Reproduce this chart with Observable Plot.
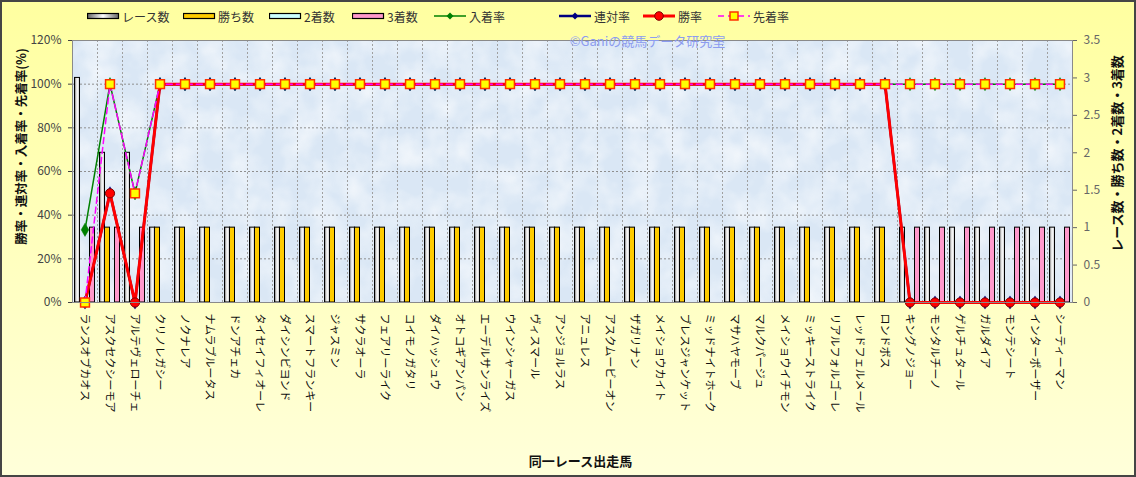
<!DOCTYPE html>
<html>
<head>
<meta charset="utf-8">
<script src="https://cdn.jsdelivr.net/npm/d3@7"></script>
<script src="https://cdn.jsdelivr.net/npm/@observablehq/plot@0.6"></script>
<style>
  html, body { margin: 0; padding: 0; }
  body { width: 1136px; height: 477px; overflow: hidden; font-family: "Noto Sans CJK JP", sans-serif; }
  #wrap { position: relative; width: 1136px; height: 477px; background: linear-gradient(to bottom, #FFFFA0, #FFFFDA); }
  #legend { position: relative; height: 24px; }
  .item { position: absolute; top: 8px; height: 16px; display: flex; align-items: center; font-size: 12px; color: #333; white-space: nowrap; }
  .item svg { margin-right: 2px; }
  #border { position: absolute; left: 0; top: 0; width: 1136px; height: 477px; box-sizing: border-box; border: 2px solid #454545; pointer-events: none; }
  #chart svg { display: block; }
</style>
</head>
<body>
<div id="wrap">
  <div id="legend"></div>
  <div id="chart"></div>
  <div id="border"></div>
</div>
<script>
// ---- data ----
const horses = ["ランスオブカオス","アスクセクシーモア","アルテヴェローチェ","クリノレガシー","ノクナレア","ナムラブルータス","ドンアチェカ","タイセイフィオーレ","ダイシンビヨンド","スマートフランキー","ジャスミン","サクラオーラ","フェアリーライク","コイモノガタリ","ダイハッシュウ","オトコギアンパン","エーデルサンライズ","ウインシャーガス","ヴィスマール","アンジョルラス","アニュレス","アスクムービーオン","ザガリナン","メイショウカイト","ブレスジャンケット","ミッドナイトホーク","マサハヤモーブ","マルクパージュ","メイショウイチモン","ミッキーストライク","リアルフォルゴーレ","レッドフェルメール","ロンドボス","キングノジョー","モンタルチーノ","ゲルチュタール","ガルダイア","モンテシート","インターポーザー","シーティーマン"];
const races   = [3,2,2,1,1,1,1,1,1,1,1,1,1,1,1,1,1,1,1,1,1,1,1,1,1,1,1,1,1,1,1,1,1,1,1,1,1,1,1,1];
const wins    = [0,1,0,1,1,1,1,1,1,1,1,1,1,1,1,1,1,1,1,1,1,1,1,1,1,1,1,1,1,1,1,1,1,0,0,0,0,0,0,0];
const seconds = [0,0,0,0,0,0,0,0,0,0,0,0,0,0,0,0,0,0,0,0,0,0,0,0,0,0,0,0,0,0,0,0,0,0,0,0,0,0,0,0];
const thirds  = [1,1,1,0,0,0,0,0,0,0,0,0,0,0,0,0,0,0,0,0,0,0,0,0,0,0,0,0,0,0,0,0,0,1,1,1,1,1,1,1];
const nyuchakuRate = [33.3,100,50,100,100,100,100,100,100,100,100,100,100,100,100,100,100,100,100,100,100,100,100,100,100,100,100,100,100,100,100,100,100,100,100,100,100,100,100,100];
const rentaiRate   = [0,50,0,100,100,100,100,100,100,100,100,100,100,100,100,100,100,100,100,100,100,100,100,100,100,100,100,100,100,100,100,100,100,0,0,0,0,0,0,0];
const winRate      = [0,50,0,100,100,100,100,100,100,100,100,100,100,100,100,100,100,100,100,100,100,100,100,100,100,100,100,100,100,100,100,100,100,0,0,0,0,0,0,0];
const senchakuRate = [0,100,50,100,100,100,100,100,100,100,100,100,100,100,100,100,100,100,100,100,100,100,100,100,100,100,100,100,100,100,100,100,100,100,100,100,100,100,100,100];
const pctTicks   = [0,20,40,60,80,100,120];
const countTicks = [0,0.5,1,1.5,2,2.5,3,3.5];
const leftTitle  = "勝率・連対率・入着率・先着率(%)";
const rightTitle = "レース数・勝ち数・2着数・3着数";
const xTitle     = "同一レース出走馬";
const watermark  = "©Ganiの競馬データ研究室";

// ---- legend ----
const legendItems = [
  {label:"レース数", kind:"bar", fill:"url(#legGrad)", x:87},
  {label:"勝ち数", kind:"bar", fill:"#FFCC00", x:183},
  {label:"2着数", kind:"bar", fill:"#CCFFFF", x:269},
  {label:"3着数", kind:"bar", fill:"#FF99CC", x:352},
  {label:"入着率", kind:"diamond", stroke:"#008000", x:434},
  {label:"連対率", kind:"diamond", stroke:"#000080", x:559},
  {label:"勝率", kind:"circle", stroke:"#FF0000", x:643},
  {label:"先着率", kind:"square", stroke:"#FF00FF", x:718}
];
const legend = document.getElementById("legend");
legendItems.forEach((it, n) => {
  const d = document.createElement("div");
  d.className = "item";
  d.style.left = it.x + "px";
  let g = "";
  if (it.kind === "bar") {
    g = (n === 0 ? '<defs><linearGradient id="legGrad" x1="0" x2="1" y1="0" y2="0"><stop offset="0" stop-color="#666"/><stop offset="0.5" stop-color="#fff"/><stop offset="1" stop-color="#666"/></linearGradient></defs>' : '') +
      `<rect x="0.5" y="5.5" width="31" height="5" fill="${it.fill}" stroke="#000" stroke-width="1.2"/>`;
  } else if (it.kind === "diamond") {
    g = `<line x1="0" x2="32" y1="8" y2="8" stroke="${it.stroke}" stroke-width="${it.stroke === '#000080' ? 2.5 : 1.5}"/><path d="M16,4.5L19.5,8L16,11.5L12.5,8Z" fill="${it.stroke}"/>`;
  } else if (it.kind === "circle") {
    g = `<line x1="0" x2="32" y1="8" y2="8" stroke="#FF0000" stroke-width="3"/><circle cx="16" cy="8" r="4.3" fill="#FF0000" stroke="#800000" stroke-width="1"/>`;
  } else {
    g = `<line x1="0" x2="32" y1="8" y2="8" stroke="#FF00FF" stroke-width="1.5" stroke-dasharray="6,4"/><rect x="12" y="4" width="8" height="8" fill="#FFFF00" stroke="#FF3300" stroke-width="1.5"/>`;
  }
  d.innerHTML = `<svg width="33" height="16">${g}</svg><span>${it.label}</span>`;
  legend.appendChild(d);
});

// ---- chart ----
const k = 120 / 3.5;               // count -> left-axis percent
const idx = d3.range(horses.length);
const barSeries = [
  {vals: races,   fill: "url(#raceGrad)", slot: 0},
  {vals: wins,    fill: "#FFCC00",        slot: 1},
  {vals: seconds, fill: "#CCFFFF",        slot: 2},
  {vals: thirds,  fill: "#FF99CC",        slot: 3}
];
const barMarks = barSeries.map(s => Plot.rectY(idx.filter(i => s.vals[i] > 0), {
  x1: i => i + 0.1 + s.slot * 0.2,
  x2: i => i + 0.3 + s.slot * 0.2,
  y1: () => 0,
  y2: i => s.vals[i] * k,
  fill: s.fill, stroke: "#000", strokeWidth: 1
}));
const cx = i => i + 0.5;

const chart = Plot.plot({
  width: 1136, height: 453,
  marginLeft: 72, marginRight: 64, marginTop: 16, marginBottom: 175,
  style: {background: "transparent", fontFamily: '"Noto Sans CJK JP", sans-serif', fontSize: "12px", color: "#333"},
  x: {type: "linear", domain: [0, horses.length]},
  y: {domain: [0, 120]},
  marks: [
    Plot.frame({fill: "#DAE7F5"}),
    Plot.frame({fill: "#ffffff", className: "texture"}),
    Plot.ruleY(pctTicks.slice(1, -1), {stroke: "#8f8f8f", strokeDasharray: "2,2", strokeWidth: 1}),
    Plot.ruleX(d3.range(1, horses.length), {stroke: "#a0a0a0", strokeDasharray: "2,2", strokeWidth: 1}),
    ...barMarks,
    Plot.line(idx, {x: cx, y: i => nyuchakuRate[i], stroke: "#008000", strokeWidth: 1.5}),
    Plot.dot(idx, {x: cx, y: i => nyuchakuRate[i], symbol: "diamond", r: 4, fill: "#008000", stroke: "#008000", strokeWidth: 0.5}),
    Plot.line(idx, {x: cx, y: i => rentaiRate[i], stroke: "#000080", strokeWidth: 2.5}),
    Plot.dot(idx, {x: cx, y: i => rentaiRate[i], symbol: "diamond", r: 4, fill: "#000080", stroke: "#000080", strokeWidth: 0.5}),
    Plot.line(idx, {x: cx, y: i => winRate[i], stroke: "#FF0000", strokeWidth: 3}),
    Plot.dot(idx, {x: cx, y: i => winRate[i], r: 4.6, fill: "#FF0000", stroke: "#800000", strokeWidth: 1}),
    Plot.line(idx, {x: cx, y: i => senchakuRate[i], stroke: "#FF00FF", strokeWidth: 1.5, strokeDasharray: "6,4"}),
    Plot.dot(idx, {x: cx, y: i => senchakuRate[i], symbol: "square", r: 5, fill: "#FFFF00", stroke: "#FF3300", strokeWidth: 1.5}),
    Plot.frame({stroke: "#8a8a8a", strokeWidth: 1}),
    Plot.axisY({anchor: "left", ticks: pctTicks, tickFormat: d => d + "%", tickSize: 4, tickPadding: 7, label: null, fontSize: 12, color: "#444"}),
    Plot.axisY({anchor: "right", ticks: countTicks.map(v => v * k), tickFormat: d => String(Math.round(d / k * 10) / 10), tickSize: 4, tickPadding: 7, label: null, fontSize: 12, color: "#666"}),
    Plot.axisX({ticks: idx.map(cx), tickFormat: d => horses[Math.round(d - 0.5)], tickRotate: 90, tickSize: 0, tickPadding: 11, label: null, fontSize: 11, color: "#111"}),
    Plot.text([leftTitle], {frameAnchor: "left", textAnchor: "middle", lineAnchor: "middle", dx: -51, dy: -25, rotate: -90, fontSize: 12.5, fontWeight: "bold", fill: "#111"}),
    Plot.text([rightTitle], {frameAnchor: "right", textAnchor: "middle", lineAnchor: "middle", dx: 45, dy: -18, rotate: -90, fontSize: 13, fontWeight: "bold", fill: "#111"}),
    Plot.text([xTitle], {frameAnchor: "bottom", textAnchor: "middle", lineAnchor: "middle", dx: 8, dy: 159, fontSize: 13, fontWeight: "bold", fill: "#111"}),
    Plot.text([watermark], {frameAnchor: "top", textAnchor: "middle", lineAnchor: "middle", dx: 75, dy: 1, fontSize: 13, fill: "#8C9CF0"})
  ]
});
const defs = d3.select(chart).insert("defs", ":first-child");
defs.html(
  '<linearGradient id="raceGrad" x1="0" x2="1" y1="0" y2="0"><stop offset="0" stop-color="#707070"/><stop offset="0.5" stop-color="#ffffff"/><stop offset="1" stop-color="#c8c8c8"/></linearGradient>' +
  '<filter id="clouds" x="0" y="0" width="1" height="1"><feTurbulence type="fractalNoise" baseFrequency="0.035" numOctaves="3" seed="4"/>' +
  '<feColorMatrix type="matrix" values="0 0 0 0 1  0 0 0 0 1  0 0 0 0 1  1.8 0 0 0 -0.6"/></filter>'
);
d3.select(chart).selectAll(".texture rect, rect.texture").attr("filter", "url(#clouds)").attr("opacity", 0.6);
document.getElementById("chart").appendChild(chart);
</script>
</body>
</html>
